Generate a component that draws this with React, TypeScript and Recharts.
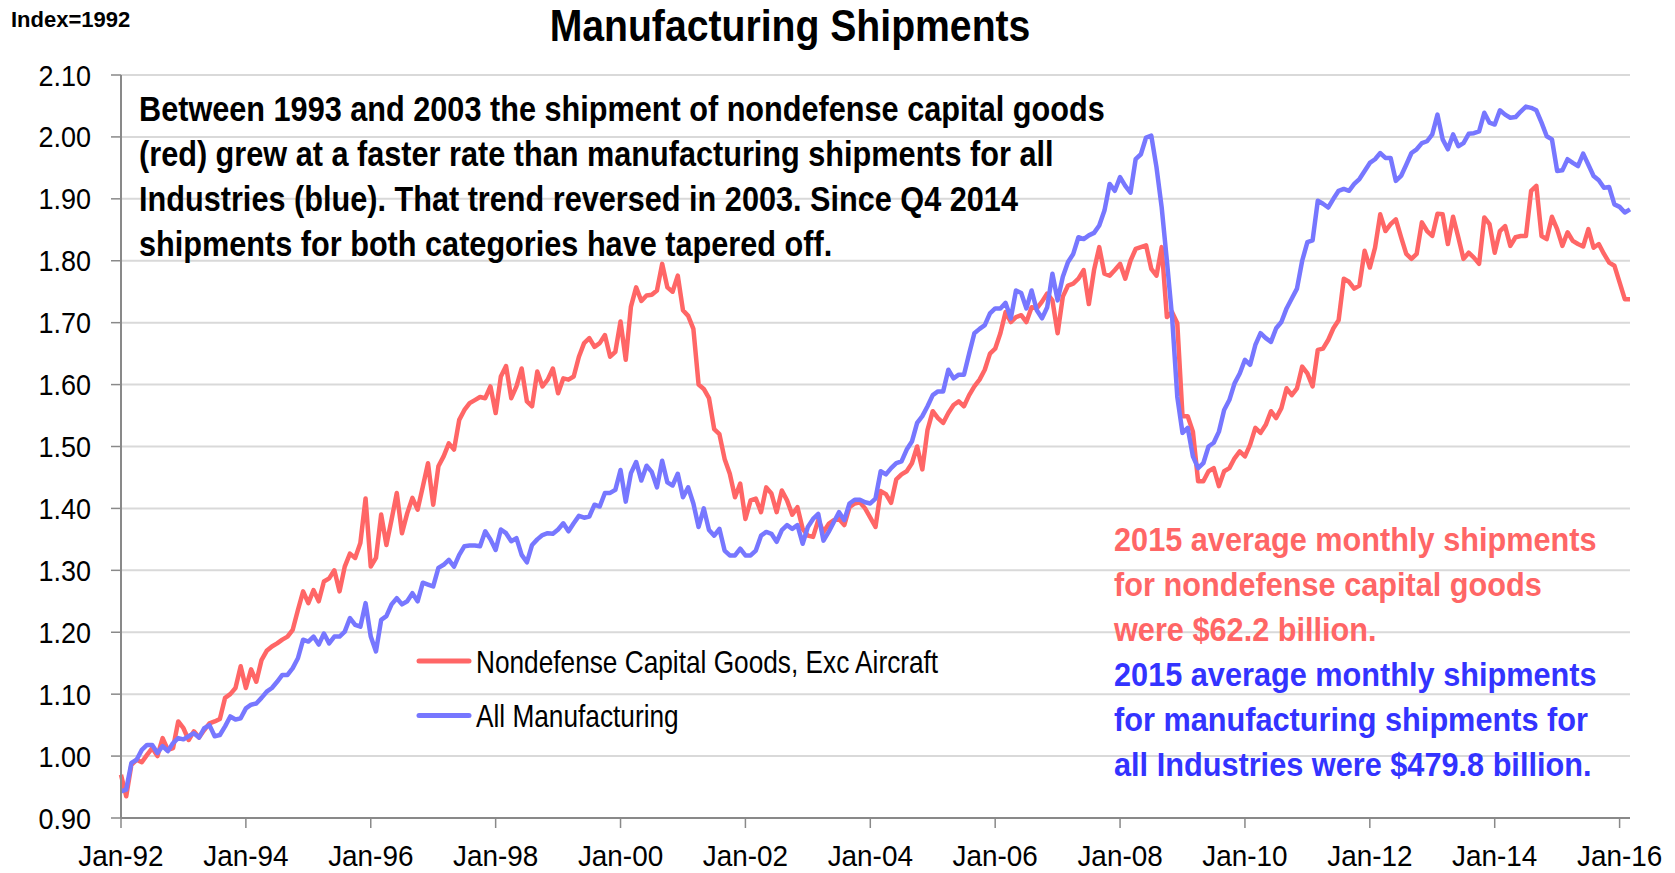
import React from "react";
import { LineChart, Line, XAxis, YAxis, CartesianGrid } from "recharts";

// monthly index values, Jan-92 .. Mar-16 (index = 1992)
const NONDEFENSE = [
  0.970, 0.935, 0.986, 0.994, 0.990, 1.002, 1.013, 1.000, 1.029, 1.010,
  1.013, 1.056, 1.045, 1.026, 1.040, 1.030, 1.042, 1.053, 1.056, 1.060,
  1.094, 1.100, 1.110, 1.145, 1.110, 1.140, 1.120, 1.155, 1.170, 1.177,
  1.182, 1.188, 1.193, 1.204, 1.236, 1.266, 1.247, 1.268, 1.250, 1.282,
  1.287, 1.300, 1.266, 1.306, 1.327, 1.320, 1.344, 1.416, 1.306, 1.320,
  1.390, 1.341, 1.382, 1.425, 1.360, 1.392, 1.417, 1.398, 1.435, 1.473,
  1.406, 1.468, 1.484, 1.505, 1.495, 1.543, 1.559, 1.570, 1.575, 1.580,
  1.578, 1.597, 1.554, 1.613, 1.630, 1.578, 1.597, 1.626, 1.573, 1.565,
  1.621, 1.597, 1.608, 1.626, 1.586, 1.610, 1.608, 1.613, 1.645, 1.667,
  1.675, 1.661, 1.667, 1.680, 1.645, 1.653, 1.702, 1.640, 1.726, 1.757,
  1.735, 1.744, 1.745, 1.752, 1.795, 1.757, 1.750, 1.776, 1.720, 1.711,
  1.690, 1.600, 1.593, 1.578, 1.528, 1.520, 1.480, 1.456, 1.418, 1.440,
  1.383, 1.413, 1.416, 1.394, 1.434, 1.424, 1.394, 1.429, 1.413, 1.390,
  1.402, 1.367, 1.356, 1.354, 1.381, 1.362, 1.375, 1.381, 1.383, 1.373,
  1.402, 1.408, 1.410, 1.400, 1.385, 1.370, 1.428, 1.423, 1.409, 1.447,
  1.455, 1.460, 1.473, 1.500, 1.463, 1.527, 1.557, 1.546, 1.538, 1.554,
  1.567, 1.573, 1.565, 1.583, 1.597, 1.608, 1.624, 1.650, 1.658, 1.683,
  1.717, 1.701, 1.709, 1.712, 1.701, 1.725, 1.723, 1.734, 1.747, 1.736,
  1.683, 1.742, 1.760, 1.763, 1.771, 1.785, 1.730, 1.785, 1.822, 1.779,
  1.776, 1.785, 1.795, 1.771, 1.800, 1.819, 1.822, 1.825, 1.787, 1.776,
  1.822, 1.709, 1.717, 1.699, 1.549, 1.549, 1.524, 1.444, 1.444, 1.460,
  1.465, 1.436, 1.460, 1.465, 1.481, 1.492, 1.484, 1.503, 1.530, 1.522,
  1.535, 1.557, 1.546, 1.562, 1.594, 1.583, 1.594, 1.629, 1.618, 1.597,
  1.656, 1.658, 1.672, 1.691, 1.704, 1.771, 1.766, 1.755, 1.760, 1.816,
  1.789, 1.821, 1.875, 1.848, 1.859, 1.867, 1.838, 1.811, 1.803, 1.811,
  1.862, 1.848, 1.840, 1.876, 1.875, 1.827, 1.871, 1.838, 1.803, 1.813,
  1.805, 1.795, 1.870, 1.859, 1.813, 1.848, 1.856, 1.824, 1.838, 1.840,
  1.840, 1.913, 1.921, 1.840, 1.835, 1.871, 1.851, 1.824, 1.846, 1.832,
  1.827, 1.823, 1.851, 1.821, 1.827, 1.811, 1.797, 1.792, 1.765, 1.738,
  1.738,
];

const ALL_MFG = [
  0.943, 0.946, 0.989, 0.994, 1.010, 1.018, 1.018, 1.005, 1.016, 1.008,
  1.021, 1.029, 1.027, 1.032, 1.037, 1.030, 1.045, 1.050, 1.032, 1.034,
  1.048, 1.064, 1.059, 1.061, 1.077, 1.083, 1.085, 1.094, 1.104, 1.110,
  1.120, 1.131, 1.131, 1.142, 1.158, 1.188, 1.185, 1.193, 1.180, 1.198,
  1.182, 1.193, 1.193, 1.201, 1.223, 1.212, 1.209, 1.247, 1.193, 1.169,
  1.220, 1.226, 1.245, 1.255, 1.245, 1.250, 1.263, 1.250, 1.280, 1.277,
  1.274, 1.304, 1.309, 1.317, 1.306, 1.325, 1.339, 1.340, 1.340, 1.339,
  1.363, 1.350, 1.333, 1.366, 1.360, 1.347, 1.352, 1.325, 1.313, 1.341,
  1.350, 1.357, 1.360, 1.359, 1.366, 1.376, 1.363, 1.376, 1.388, 1.385,
  1.387, 1.406, 1.403, 1.425, 1.425, 1.430, 1.462, 1.411, 1.457, 1.475,
  1.445, 1.469, 1.459, 1.434, 1.477, 1.442, 1.437, 1.456, 1.418, 1.434,
  1.408, 1.370, 1.400, 1.365, 1.356, 1.367, 1.332, 1.324, 1.324, 1.335,
  1.324, 1.324, 1.332, 1.356, 1.362, 1.359, 1.346, 1.365, 1.373, 1.367,
  1.373, 1.343, 1.370, 1.383, 1.391, 1.348, 1.362, 1.378, 1.394, 1.381,
  1.408, 1.414, 1.414, 1.410, 1.408, 1.416, 1.460, 1.455, 1.465, 1.473,
  1.476, 1.495, 1.508, 1.538, 1.549, 1.565, 1.583, 1.589, 1.589, 1.624,
  1.610, 1.616, 1.616, 1.650, 1.683, 1.690, 1.696, 1.715, 1.723, 1.723,
  1.732, 1.707, 1.752, 1.748, 1.723, 1.752, 1.720, 1.707, 1.725, 1.779,
  1.736, 1.774, 1.798, 1.811, 1.838, 1.835, 1.841, 1.845, 1.857, 1.881,
  1.924, 1.913, 1.935, 1.921, 1.910, 1.964, 1.972, 1.999, 2.002, 1.951,
  1.886, 1.800, 1.709, 1.580, 1.522, 1.530, 1.484, 1.465, 1.473, 1.500,
  1.506, 1.524, 1.559, 1.575, 1.602, 1.618, 1.640, 1.632, 1.664, 1.683,
  1.675, 1.669, 1.691, 1.701, 1.723, 1.739, 1.755, 1.800, 1.830, 1.833,
  1.897, 1.892, 1.886, 1.900, 1.913, 1.916, 1.913, 1.924, 1.932, 1.945,
  1.958, 1.964, 1.974, 1.966, 1.966, 1.929, 1.937, 1.955, 1.974, 1.980,
  1.990, 1.993, 2.004, 2.036, 1.996, 1.980, 2.004, 1.985, 1.990, 2.005,
  2.006, 2.009, 2.039, 2.023, 2.020, 2.043, 2.036, 2.031, 2.032, 2.041,
  2.049, 2.047, 2.043, 2.023, 2.001, 1.996, 1.945, 1.946, 1.964, 1.958,
  1.953, 1.973, 1.955, 1.937, 1.930, 1.918, 1.919, 1.891, 1.887, 1.878,
  1.883,
];

const X_TICK_LABELS = [
  "Jan-92", "Jan-94", "Jan-96", "Jan-98", "Jan-00", "Jan-02", "Jan-04",
  "Jan-06", "Jan-08", "Jan-10", "Jan-12", "Jan-14", "Jan-16",
];
const X_TICKS = X_TICK_LABELS.map((_, i) => i * 24);
const Y_TICKS = [0.9, 1.0, 1.1, 1.2, 1.3, 1.4, 1.5, 1.6, 1.7, 1.8, 1.9, 2.0, 2.1];

const NOTE_LINES = [
  "Between 1993 and 2003 the shipment of nondefense capital goods",
  "(red) grew at a faster rate than manufacturing shipments for all",
  "Industries (blue). That trend reversed in 2003. Since Q4 2014",
  "shipments for both categories have tapered off.",
];
const RED_NOTE = [
  "2015 average monthly shipments",
  "for nondefense capital goods",
  "were $62.2 billion.",
];
const BLUE_NOTE = [
  "2015 average monthly shipments",
  "for manufacturing shipments for",
  "all Industries were $479.8 billion.",
];
const SERIES = [
  { key: "red", name: "Nondefense Capital Goods, Exc Aircraft", color: "#FF6666" },
  { key: "blue", name: "All Manufacturing", color: "#7777FF" },
];

const RED = "#FF6666";
const BLUE_TEXT = "#3333FF";
const AXIS = "#898989";
const FONT = "'Liberation Sans', Arial, sans-serif";

const data = NONDEFENSE.map((v, i) => ({ m: i, red: v, blue: ALL_MFG[i] }));

// the original uses a condensed face, so squeeze a normal one horizontally
function Narrow({ x, y, size, sx, bold, fill = "#000", anchor = "start", dy = 0, children }: any) {
  return (
    <text
      transform={`translate(${x} ${y}) scale(${sx} 1)`}
      dy={dy}
      fontSize={size}
      fontWeight={bold ? "bold" : "normal"}
      fill={fill}
      textAnchor={anchor}
      fontFamily={FONT}
    >
      {children}
    </text>
  );
}

function XTick({ x, y, payload }: any) {
  return (
    <Narrow x={x} y={y + 38} size={30} sx={0.93} anchor="middle">
      {X_TICK_LABELS[Math.round(payload.value / 24)]}
    </Narrow>
  );
}

function YTick({ x, y, payload }: any) {
  return (
    <Narrow x={x} y={y + 10.5} size={30} sx={0.9} anchor="end">
      {Number(payload.value).toFixed(2)}
    </Narrow>
  );
}

export default function App() {
  return (
    <div style={{ position: "absolute", left: 0, top: 0, width: 1675, height: 873, background: "#fff" }}>
      <LineChart
        width={1675}
        height={873}
        data={data}
        margin={{ top: 75, right: 45, bottom: 0, left: 0 }}
      >
        <CartesianGrid vertical={false} stroke="#d9d9d9" strokeWidth={2} />
        <XAxis
          type="number"
          dataKey="m"
          domain={[0, 290]}
          ticks={X_TICKS}
          interval={0}
          height={55}
          tickSize={10}
          tickMargin={0}
          axisLine={{ stroke: AXIS, strokeWidth: 2 }}
          tickLine={{ stroke: AXIS, strokeWidth: 1.5 }}
          tick={<XTick />}
        />
        <YAxis
          type="number"
          domain={[0.9, 2.1]}
          ticks={Y_TICKS}
          interval={0}
          width={121}
          tickSize={10}
          tickMargin={20}
          axisLine={{ stroke: AXIS, strokeWidth: 2 }}
          tickLine={{ stroke: AXIS, strokeWidth: 1.5 }}
          tick={<YTick />}
        />
        {SERIES.map((s) => (
          <Line
            key={s.key}
            type="linear"
            dataKey={s.key}
            name={s.name}
            stroke={s.color}
            strokeWidth={4.5}
            strokeLinejoin="round"
            dot={false}
            isAnimationActive={false}
          />
        ))}
      </LineChart>
      <svg
        width={1675}
        height={873}
        style={{ position: "absolute", left: 0, top: 0, pointerEvents: "none" }}
      >
        <Narrow x={11} y={27} size={22} sx={1} bold>Index=1992</Narrow>
        <Narrow x={790} y={41} size={44} sx={0.89} bold anchor="middle">
          Manufacturing Shipments
        </Narrow>
        {NOTE_LINES.map((t, i) => (
          <Narrow key={t} x={139} y={121 + i * 44.9} size={35} sx={0.876} bold>{t}</Narrow>
        ))}
        {RED_NOTE.map((t, i) => (
          <Narrow key={t} x={1114} y={551 + i * 44.8} size={33} sx={0.93} bold fill={RED}>{t}</Narrow>
        ))}
        {BLUE_NOTE.map((t, i) => (
          <Narrow key={t} x={1114} y={686 + i * 44.8} size={33} sx={0.93} bold fill={BLUE_TEXT}>{t}</Narrow>
        ))}
        {/* legend */}
        {SERIES.map((s, i) => (
          <g key={s.key}>
            <line
              x1={419}
              x2={469}
              y1={661 + i * 54.5}
              y2={661 + i * 54.5}
              stroke={s.color}
              strokeWidth={5}
              strokeLinecap="round"
            />
            <Narrow x={476} y={672.5 + i * 54.5} size={32} sx={0.82}>{s.name}</Narrow>
          </g>
        ))}
      </svg>
    </div>
  );
}
